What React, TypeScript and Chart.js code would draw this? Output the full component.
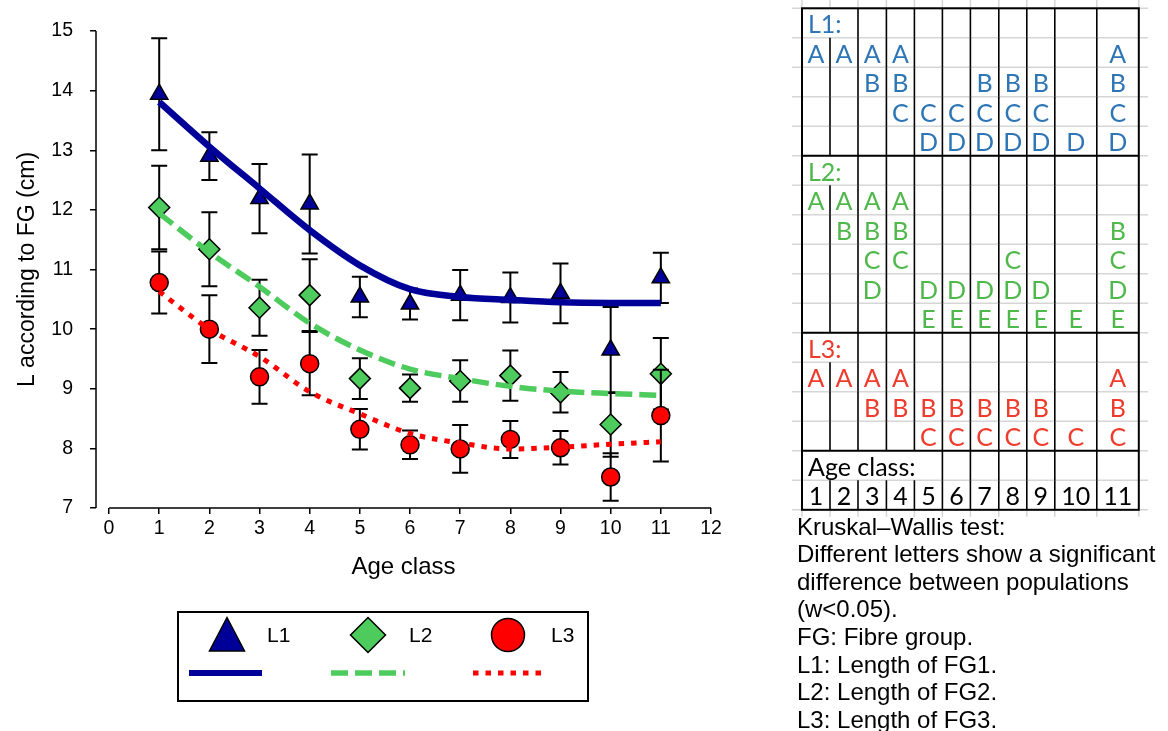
import React, { useEffect, useRef } from "react";
import { Chart, registerables } from "chart.js";

Chart.register(...registerables);

// ---------- chart data ----------
const AGE_CLASSES = [1, 2, 3, 4, 5, 6, 7, 8, 9, 10, 11];
const X_TICKS = [0, 1, 2, 3, 4, 5, 6, 7, 8, 9, 10, 11, 12];
const Y_TICKS = [7, 8, 9, 10, 11, 12, 13, 14, 15];

const L1_MEAN = [13.94, 12.9, 12.19, 12.1, 10.54, 10.42, 10.57, 10.53, 10.6, 9.65, 10.86];
const L1_ERR = [0.94, 0.4, 0.58, 0.83, 0.34, 0.26, 0.42, 0.42, 0.5, 0.72, 0.42];
const L2_MEAN = [12.04, 11.34, 10.36, 10.57, 9.17, 9.01, 9.13, 9.22, 8.94, 8.4, 9.25];
const L2_ERR = [0.7, 0.62, 0.47, 0.6, 0.34, 0.23, 0.35, 0.42, 0.34, 0.54, 0.6];
const L3_MEAN = [10.78, 10.0, 9.2, 9.42, 8.32, 8.06, 7.99, 8.15, 8.01, 7.52, 8.55];
const L3_ERR = [0.52, 0.57, 0.45, 0.53, 0.34, 0.24, 0.4, 0.31, 0.28, 0.4, 0.77];

const L1_FIT = [13.81, 13.06, 12.36, 11.66, 11.07, 10.67, 10.54, 10.49, 10.45, 10.44, 10.44];
const L2_FIT = [11.94, 11.29, 10.71, 10.1, 9.65, 9.33, 9.17, 9.04, 8.96, 8.92, 8.89];
const L3_FIT = [10.63, 10.0, 9.54, 8.95, 8.58, 8.25, 8.09, 7.99, 8.02, 8.07, 8.11];

const SERIES_NAMES = ["L1", "L2", "L3"];
const X_TITLE = "Age class";
const Y_TITLE = "L according to FG (cm)";

// ---------- table data (Kruskal–Wallis letters per age class) ----------
const L1_GROUPS = ["A", "A", "AB", "ABC", "CD", "CD", "BCD", "BCD", "BCD", "D", "ABCD"];
const L2_GROUPS = ["A", "AB", "ABCD", "ABC", "DE", "DE", "DE", "CDE", "DE", "E", "BCDE"];
const L3_GROUPS = ["A", "A", "AB", "AB", "BC", "BC", "BC", "BC", "BC", "C", "ABC"];
const L1_LETTERS = ["A", "B", "C", "D"];
const L2_LETTERS = ["A", "B", "C", "D", "E"];
const L3_LETTERS = ["A", "B", "C"];

const NOTES = [
  "Kruskal\u2013Wallis test:",
  "Different letters show a significant",
  "difference between populations",
  "(w<0.05).",
  "FG: Fibre group.",
  "L1: Length of FG1.",
  "L2: Length of FG2.",
  "L3: Length of FG3.",
];

// ---------- styles ----------
const NAVY = "#000099";
const GREEN = "#4DCB5C";
const RED = "#FF0000";
const FONT = "'Liberation Sans', Arial, Helvetica, sans-serif";
const TFONT = "Lato, 'Open Sans', sans-serif";
const T_BLUE = "#2E75B6";
const T_GREEN = "#4FB84B";
const T_RED = "#EE3B2C";

const errorBarsPlugin = {
  id: "errorBars",
  beforeDatasetDraw(chart: any, args: any) {
    const ds = chart.data.datasets[args.index];
    const errs: number[] | undefined = ds.errorBars;
    if (!errs) return;
    const { ctx, scales } = chart;
    const xs = scales.x;
    const ys = scales.y;
    ctx.save();
    ctx.strokeStyle = "#000";
    ctx.lineWidth = 2;
    ds.data.forEach((p: any, i: number) => {
      const px = xs.getPixelForValue(p.x);
      const top = ys.getPixelForValue(p.y + errs[i]);
      const bot = ys.getPixelForValue(p.y - errs[i]);
      ctx.beginPath();
      ctx.moveTo(px, top);
      ctx.lineTo(px, bot);
      ctx.moveTo(px - 8, top);
      ctx.lineTo(px + 8, top);
      ctx.moveTo(px - 8, bot);
      ctx.lineTo(px + 8, bot);
      ctx.stroke();
    });
    ctx.restore();
  },
};

const axisLinesPlugin = {
  id: "axisLines",
  beforeDatasetsDraw(chart: any) {
    const { ctx, chartArea, scales } = chart;
    const xs = scales.x;
    const ys = scales.y;
    ctx.save();
    ctx.strokeStyle = "#000";
    ctx.lineWidth = 1.5;
    ctx.beginPath();
    ctx.moveTo(chartArea.left, ys.getPixelForValue(Y_TICKS[Y_TICKS.length - 1]));
    ctx.lineTo(chartArea.left, ys.getPixelForValue(Y_TICKS[0]));
    const yb = ys.getPixelForValue(Y_TICKS[0]);
    ctx.moveTo(xs.getPixelForValue(X_TICKS[0]), yb);
    ctx.lineTo(xs.getPixelForValue(X_TICKS[X_TICKS.length - 1]), yb);
    ctx.stroke();
    ctx.restore();
  },
};

const legendPlugin = {
  id: "customLegend",
  afterDraw(chart: any) {
    const ctx = chart.ctx;
    ctx.save();
    // box
    ctx.strokeStyle = "#000";
    ctx.lineWidth = 2;
    ctx.strokeRect(178, 612, 410, 89);
    const my = 635;
    // triangle
    ctx.beginPath();
    ctx.moveTo(227, 617.5);
    ctx.lineTo(244.5, 651);
    ctx.lineTo(209.5, 651);
    ctx.closePath();
    ctx.fillStyle = NAVY;
    ctx.fill();
    ctx.lineWidth = 1.5;
    ctx.stroke();
    // diamond
    ctx.beginPath();
    ctx.moveTo(368, my - 17.5);
    ctx.lineTo(385.5, my);
    ctx.lineTo(368, my + 17.5);
    ctx.lineTo(350.5, my);
    ctx.closePath();
    ctx.fillStyle = GREEN;
    ctx.fill();
    ctx.stroke();
    // circle
    ctx.beginPath();
    ctx.arc(508, my, 16.5, 0, Math.PI * 2);
    ctx.fillStyle = RED;
    ctx.fill();
    ctx.stroke();
    // labels
    ctx.fillStyle = "#000";
    ctx.font = `21px ${FONT}`;
    ctx.textBaseline = "middle";
    ctx.textAlign = "left";
    ctx.fillText(SERIES_NAMES[0], 267, 636);
    ctx.fillText(SERIES_NAMES[1], 409, 636);
    ctx.fillText(SERIES_NAMES[2], 551, 636);
    // lines
    const ly = 673;
    ctx.lineCap = "butt";
    ctx.strokeStyle = NAVY;
    ctx.lineWidth = 6;
    ctx.setLineDash([]);
    ctx.beginPath();
    ctx.moveTo(189, ly);
    ctx.lineTo(262, ly);
    ctx.stroke();
    ctx.strokeStyle = GREEN;
    ctx.lineWidth = 5.5;
    ctx.setLineDash([17, 7]);
    ctx.beginPath();
    ctx.moveTo(331, ly);
    ctx.lineTo(405, ly);
    ctx.stroke();
    ctx.strokeStyle = RED;
    ctx.lineWidth = 5;
    ctx.setLineDash([5.5, 7]);
    ctx.beginPath();
    ctx.moveTo(473, ly);
    ctx.lineTo(547, ly);
    ctx.stroke();
    ctx.restore();
  },
};

function pts(vals: number[]) {
  return AGE_CLASSES.map((x, i) => ({ x, y: vals[i] }));
}

// ---------- table layout ----------
const TABLE_LEFT = 802;
const TABLE_TOP = 8.3;
const ROW_H = 29.5;
const COL_W = [28, 28, 28.4, 28, 28, 28, 28.4, 28, 28, 42, 42];

type Row =
  | { kind: "header"; text: string; color: string }
  | { kind: "letter"; letter: string; groups: string[]; color: string }
  | { kind: "age" }
  | { kind: "numbers" };

function buildRows(): { rows: Row[]; sectionEnds: number[] } {
  const rows: Row[] = [];
  const sectionEnds: number[] = [];
  const sections = [
    { text: "L1:", letters: L1_LETTERS, groups: L1_GROUPS, color: T_BLUE },
    { text: "L2:", letters: L2_LETTERS, groups: L2_GROUPS, color: T_GREEN },
    { text: "L3:", letters: L3_LETTERS, groups: L3_GROUPS, color: T_RED },
  ];
  sections.forEach((s) => {
    rows.push({ kind: "header", text: s.text, color: s.color });
    s.letters.forEach((l) => rows.push({ kind: "letter", letter: l, groups: s.groups, color: s.color }));
    sectionEnds.push(rows.length);
  });
  rows.push({ kind: "age" });
  rows.push({ kind: "numbers" });
  return { rows, sectionEnds };
}

function Table() {
  const { rows, sectionEnds } = buildRows();
  const colX: number[] = [TABLE_LEFT];
  COL_W.forEach((w) => colX.push(colX[colX.length - 1] + w));
  const right = colX[colX.length - 1];
  const bottom = TABLE_TOP + rows.length * ROW_H;
  const els: React.ReactNode[] = [];
  const gray = "#d6d6d6";
  const fs = 25;
  // gray gridlines
  for (let r = 0; r <= rows.length; r++) {
    const y = TABLE_TOP + r * ROW_H;
    els.push(<line key={`gh${r}`} x1={792} x2={1148} y1={y} y2={y} stroke={gray} strokeWidth={1.5} />);
  }
  colX.forEach((x, i) => {
    els.push(<line key={`gt${i}`} x1={x} x2={x} y1={0} y2={TABLE_TOP} stroke={gray} strokeWidth={1.5} />);
    els.push(<line key={`gb${i}`} x1={x} x2={x} y1={bottom} y2={bottom + 7} stroke={gray} strokeWidth={1.5} />);
  });
  // black verticals
  rows.forEach((row, r) => {
    const y1 = TABLE_TOP + r * ROW_H;
    const y2 = y1 + ROW_H;
    for (let b = 1; b < colX.length - 1; b++) {
      if (row.kind === "header" && b === 1) continue;
      if (row.kind === "age" && b <= 4) continue;
      els.push(<line key={`v${r}-${b}`} x1={colX[b]} x2={colX[b]} y1={y1} y2={y2} stroke="#000" strokeWidth={1.6} />);
    }
  });
  // section lines
  sectionEnds.forEach((e, i) => {
    const y = TABLE_TOP + e * ROW_H;
    els.push(<line key={`s${i}`} x1={TABLE_LEFT} x2={right} y1={y} y2={y} stroke="#000" strokeWidth={2} />);
  });
  els.push(
    <rect key="border" x={TABLE_LEFT} y={TABLE_TOP} width={right - TABLE_LEFT} height={bottom - TABLE_TOP} fill="none" stroke="#000" strokeWidth={2} />
  );
  // texts
  rows.forEach((row, r) => {
    const base = TABLE_TOP + r * ROW_H + 25;
    if (row.kind === "header") {
      els.push(
        <text key={`t${r}`} x={TABLE_LEFT + 6} y={base} fill={row.color} fontSize={fs} fontFamily={TFONT}>
          {row.text}
        </text>
      );
    } else if (row.kind === "age") {
      els.push(
        <text key={`t${r}`} x={TABLE_LEFT + 6} y={base} fill="#000" fontSize={fs} fontFamily={TFONT}>
          Age class:
        </text>
      );
    } else if (row.kind === "numbers") {
      AGE_CLASSES.forEach((a, c) => {
        els.push(
          <text key={`n${c}`} x={(colX[c] + colX[c + 1]) / 2} y={base - 0.5} fill="#000" fontSize={fs} textAnchor="middle" fontFamily={TFONT}>
            {String(a)}
          </text>
        );
      });
    } else {
      row.groups.forEach((g, c) => {
        if (g.indexOf(row.letter) >= 0) {
          els.push(
            <text key={`l${r}-${c}`} x={(colX[c] + colX[c + 1]) / 2} y={base} fill={row.color} fontSize={fs} textAnchor="middle" fontFamily={TFONT}>
              {row.letter}
            </text>
          );
        }
      });
    }
  });
  // notes
  NOTES.forEach((t, i) => {
    els.push(
      <text key={`note${i}`} x={797} y={534.5 + i * 27.6} fill="#000" fontSize={24} fontFamily={FONT}>
        {t}
      </text>
    );
  });
  return (
    <svg width={1168} height={731} style={{ position: "absolute", left: 0, top: 0 }}>
      {els}
    </svg>
  );
}

export default function App() {
  const ref = useRef<HTMLCanvasElement>(null);
  useEffect(() => {
    if (!ref.current) return;
    const chart = new Chart(ref.current, {
      type: "scatter",
      data: {
        datasets: [
          {
            type: "line",
            label: SERIES_NAMES[0] + " fit",
            data: pts(L1_FIT),
            borderColor: NAVY,
            borderWidth: 6.5,
            pointRadius: 0,
            showLine: true,
            cubicInterpolationMode: "monotone",
            order: 0,
            clip: false,
          } as any,
          {
            type: "line",
            label: SERIES_NAMES[1] + " fit",
            data: pts(L2_FIT),
            borderColor: GREEN,
            borderWidth: 5.5,
            borderDash: [17, 7],
            borderCapStyle: "butt",
            pointRadius: 0,
            showLine: true,
            cubicInterpolationMode: "monotone",
            order: 0,
            clip: false,
          } as any,
          {
            type: "line",
            label: SERIES_NAMES[2] + " fit",
            data: pts(L3_FIT),
            borderColor: RED,
            borderWidth: 5,
            borderDash: [5.5, 7],
            borderCapStyle: "butt",
            pointRadius: 0,
            showLine: true,
            cubicInterpolationMode: "monotone",
            order: 0,
            clip: false,
          } as any,
          {
            label: SERIES_NAMES[2],
            data: pts(L3_MEAN),
            errorBars: L3_ERR,
            pointStyle: "circle",
            pointRadius: 9,
            backgroundColor: RED,
            borderColor: "#000",
            borderWidth: 1.5,
            order: 1,
            clip: false,
          } as any,
          {
            label: SERIES_NAMES[1],
            data: pts(L2_MEAN),
            errorBars: L2_ERR,
            pointStyle: "rectRot",
            pointRadius: 10.5,
            backgroundColor: GREEN,
            borderColor: "#000",
            borderWidth: 1.5,
            order: 2,
            clip: false,
          } as any,
          {
            label: SERIES_NAMES[0],
            data: pts(L1_MEAN),
            errorBars: L1_ERR,
            pointStyle: "triangle",
            pointRadius: 10,
            backgroundColor: NAVY,
            borderColor: "#000",
            borderWidth: 1.5,
            order: 3,
            clip: false,
          } as any,
        ],
      },
      options: {
        responsive: false,
        animation: false,
        events: [],
        layout: { padding: { left: 0, top: 31, right: 59, bottom: 0 } },
        plugins: {
          legend: { display: false },
          tooltip: { enabled: false },
        },
        scales: {
          x: {
            type: "linear",
            min: -0.26,
            max: 12,
            afterBuildTicks: (s: any) => {
              s.ticks = X_TICKS.map((v) => ({ value: v }));
            },
            afterFit: (s: any) => {
              s.height = 223;
            },
            border: { display: false },
            grid: {
              display: true,
              drawOnChartArea: false,
              drawTicks: true,
              tickLength: 6,
              color: "#000",
              lineWidth: 1.5,
            },
            ticks: {
              color: "#000",
              font: { family: FONT, size: 19.5 },
              padding: 3,
              maxRotation: 0,
              autoSkip: false,
              callback: (v: any) => String(v),
            },
            title: {
              display: true,
              text: X_TITLE,
              color: "#000",
              font: { family: FONT, size: 24 },
              padding: { top: 4, bottom: 149.6 },
            },
          },
          y: {
            type: "linear",
            min: Y_TICKS[0],
            max: Y_TICKS[Y_TICKS.length - 1],
            afterBuildTicks: (s: any) => {
              s.ticks = Y_TICKS.map((v) => ({ value: v }));
            },
            afterFit: (s: any) => {
              s.width = 96;
            },
            border: { display: false },
            grid: {
              display: true,
              drawOnChartArea: false,
              drawTicks: true,
              tickLength: 6,
              color: "#000",
              lineWidth: 1.5,
            },
            ticks: {
              color: "#000",
              font: { family: FONT, size: 19.5 },
              padding: 17,
              callback: (v: any) => String(v),
            },
            title: {
              display: true,
              text: Y_TITLE,
              color: "#000",
              font: { family: FONT, size: 23 },
              padding: { top: 14.2, bottom: 4 },
            },
          },
        },
      } as any,
      plugins: [axisLinesPlugin, errorBarsPlugin, legendPlugin],
    });
    return () => chart.destroy();
  }, []);

  return (
    <div style={{ position: "absolute", left: 0, top: 0, width: 1168, height: 731, background: "#fff", overflow: "hidden" }}>
      <canvas ref={ref} width={770} height={731} style={{ position: "absolute", left: 0, top: 0, width: 770, height: 731 }} />
      <Table />
    </div>
  );
}
